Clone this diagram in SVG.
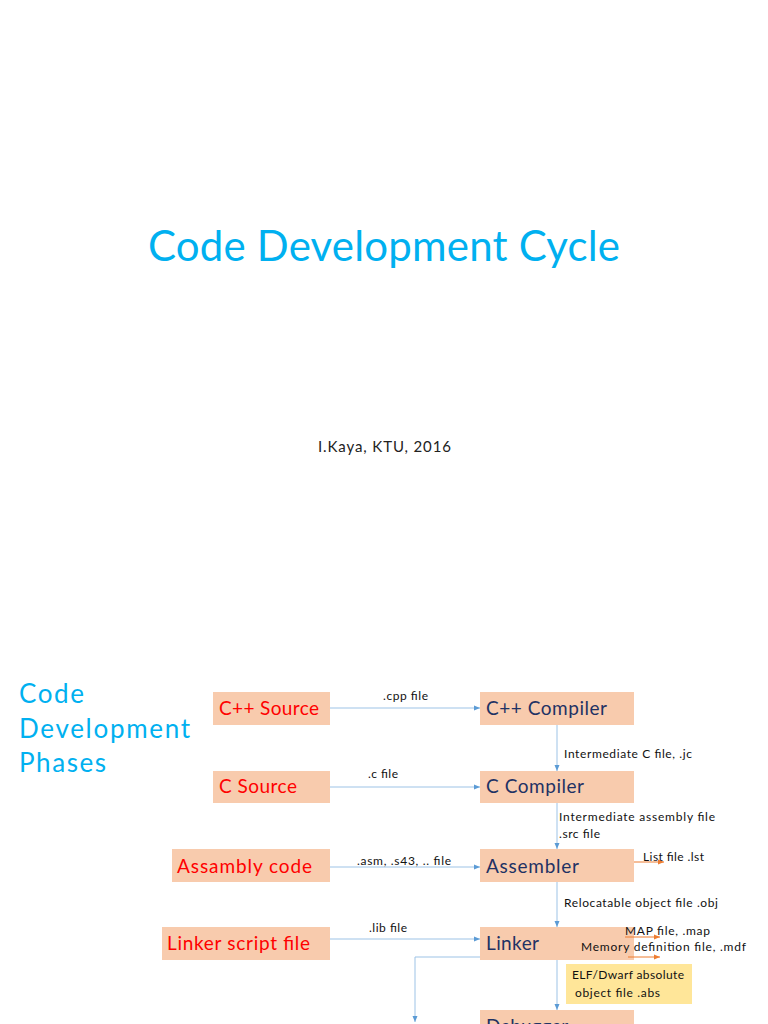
<svg xmlns="http://www.w3.org/2000/svg" width="768" height="1024" viewBox="0 0 768 1024">
<defs>
<style>
.title{font-family:Lato,"Open Sans","Liberation Sans",sans-serif;fill:#00B0F0}
.sub{font-family:Lato,"Open Sans","Liberation Sans",sans-serif;font-size:15px;fill:#222}
.box{fill:#F8CBAD}
.src{font-family:Lato,"Open Sans","Liberation Sans",sans-serif;font-size:19px;fill:#FF0000}
.tool{font-family:Lato,"Open Sans","Liberation Sans",sans-serif;font-size:19px;fill:#1F3264}
.lbl{font-family:Lato,"Open Sans","Liberation Sans",sans-serif;font-size:12px;fill:#111}
.conn{stroke:#9DC3E6;stroke-width:1;fill:none}
.out{stroke:#ED7D31;stroke-width:1;fill:none}
</style>
<marker id="ab" viewBox="0 0 6 6" refX="6" refY="3" markerWidth="6" markerHeight="6" orient="auto" markerUnits="userSpaceOnUse">
<path d="M0,0.5 L6,3 L0,5.5 Z" fill="#5B9BD5"/>
</marker>
<marker id="ao" viewBox="0 0 6 6" refX="6" refY="3" markerWidth="6" markerHeight="6" orient="auto" markerUnits="userSpaceOnUse">
<path d="M0,0.5 L6,3 L0,5.5 Z" fill="#ED7D31"/>
</marker>
</defs>
<rect width="768" height="1024" fill="#FFFFFF"/>
<text class="title" x="148" y="261" font-size="42" textLength="472">Code Development Cycle</text>
<text class="sub" x="318" y="452" textLength="133">I.Kaya, KTU, 2016</text>
<g id="heading">
<text class="title" x="19" y="703" font-size="26" textLength="65">Code</text>
<text class="title" x="19" y="738" font-size="26" textLength="171">Development</text>
<text class="title" x="19" y="772" font-size="26" textLength="87">Phases</text>
</g>
<g id="cpp-source"><rect class="box" x="213" y="692" width="117" height="33"/><text class="src" x="219" y="715" textLength="100">C++ Source</text></g>
<g id="c-source"><rect class="box" x="213" y="771" width="117" height="32"/><text class="src" x="219" y="793" textLength="78">C Source</text></g>
<g id="assambly-code"><rect class="box" x="172" y="849" width="158" height="33"/><text class="src" x="177" y="873" textLength="135">Assambly code</text></g>
<g id="linker-script"><rect class="box" x="162" y="927" width="168" height="33"/><text class="src" x="167" y="950" textLength="143">Linker script file</text></g>
<g id="cpp-compiler"><rect class="box" x="480" y="692" width="154" height="33"/><text class="tool" x="486" y="715" textLength="121">C++ Compiler</text></g>
<g id="c-compiler"><rect class="box" x="480" y="771" width="154" height="32"/><text class="tool" x="486" y="793" textLength="98">C Compiler</text></g>
<g id="assembler"><rect class="box" x="480" y="849" width="154" height="33"/><text class="tool" x="486" y="873" textLength="93">Assembler</text></g>
<g id="linker"><rect class="box" x="480" y="927" width="154" height="33"/><text class="tool" x="486" y="950" textLength="53">Linker</text></g>
<g id="elf-note"><rect x="566" y="964" width="126" height="40" fill="#FFE699"/><text class="lbl" x="572" y="979" textLength="112">ELF/Dwarf absolute</text><text class="lbl" x="575" y="997" textLength="85">object file .abs</text></g>
<g id="debugger"><rect class="box" x="480" y="1010" width="154" height="33"/><text class="tool" x="486" y="1033">Debugger</text></g>
<g id="connectors">
<path class="conn" d="M330,708 H480" marker-end="url(#ab)"/>
<path class="conn" d="M330,787 H480" marker-end="url(#ab)"/>
<path class="conn" d="M330,867 H480" marker-end="url(#ab)"/>
<path class="conn" d="M330,939 H480" marker-end="url(#ab)"/>
<path class="conn" d="M557,725 V771" marker-end="url(#ab)"/>
<path class="conn" d="M557,803 V849" marker-end="url(#ab)"/>
<path class="conn" d="M557,882 V927" marker-end="url(#ab)"/>
<path class="conn" d="M557,960 V1010" marker-end="url(#ab)"/>
<path class="conn" d="M480,957 H415 V1022" marker-end="url(#ab)"/>
<path class="out" d="M634,862 H664" marker-end="url(#ao)"/>
<path class="out" d="M625,937 H660" marker-end="url(#ao)"/>
<path class="out" d="M628,957 H660" marker-end="url(#ao)"/>
<text class="lbl" x="383" y="700" textLength="45">.cpp file</text>
<text class="lbl" x="368" y="778" textLength="30">.c file</text>
<text class="lbl" x="357" y="865" textLength="94">.asm, .s43, .. file</text>
<text class="lbl" x="369" y="932" textLength="38">.lib file</text>
<text class="lbl" x="564" y="758" textLength="128">Intermediate C file, .jc</text>
<text class="lbl" x="559" y="821" textLength="156">Intermediate assembly file</text>
<text class="lbl" x="559" y="838" textLength="41">.src file</text>
<text class="lbl" x="564" y="907" textLength="154">Relocatable object file .obj</text>
<text class="lbl" x="643" y="861" textLength="61">List file .lst</text>
<text class="lbl" x="625" y="935" textLength="85">MAP file, .map</text>
<text class="lbl" x="581" y="951" textLength="165">Memory definition file, .mdf</text>
</g>
</svg>
